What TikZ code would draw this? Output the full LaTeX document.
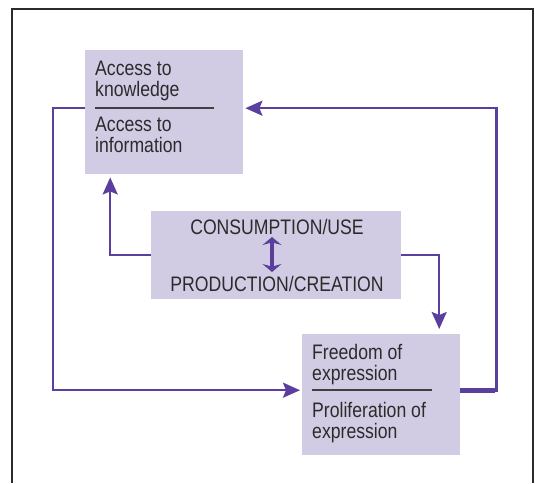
\documentclass[tikz,border=0pt]{standalone}
\usepackage{fontspec}
\setmainfont{Liberation Sans}[FakeStretch=0.84]
\usetikzlibrary{arrows.meta}
\definecolor{flowpurple}{HTML}{5B3F9E}
\definecolor{boxlilac}{HTML}{D1CCE4}
\definecolor{inkgray}{HTML}{2B2B2B}
\begin{document}
\begin{tikzpicture}[x=1pt,y=-1pt,
  box/.style={fill=boxlilac,inner sep=0pt,anchor=north west},
  label/.style={text=inkgray,align=left,anchor=base west,inner sep=0pt,
    font=\fontsize{21}{20.5}\selectfont},
  caps/.style={text=inkgray,inner sep=0pt,anchor=base,font=\fontsize{21}{20}\selectfont},
  rule/.style={draw=inkgray!90,line width=1.3pt},
  flow/.style={draw=flowpurple,line width=2.4pt,shorten >=2pt,
    -{Stealth[length=17pt,width=15pt,inset=3pt]}},
  ]
\useasboundingbox (0,0) rectangle (535,483);

% frame:
\draw[line width=1.1pt,inkgray] (12,483) -- (12,9) -- (533,9) -- (533,483);

% boxes:
\node[box,minimum width=158pt,minimum height=124pt] (access) at (85,50) {};
\node[box,minimum width=250pt,minimum height=88pt] (use) at (151,211) {};
\node[box,minimum width=158pt,minimum height=121pt] (free) at (302,334) {};

% access (base = last line):
\node[label] (know) at (95,96) {Access to\\knowledge};
\draw[rule] (95,108) -- (214,108);
\node[label] (info) at (95,152) {Access to\\information};

% use:
\node[caps] (consume) at (277,234) {CONSUMPTION/USE};
\node[caps] (produce) at (277,291) {PRODUCTION/CREATION};
\coordinate (swap1) at (272,237);
\coordinate (swap2) at (272,272);
\draw[flowpurple,line width=4.5pt,{Stealth[length=8pt,width=19pt]}-{Stealth[length=8pt,width=19pt]}]
  (swap1) -- (swap2);

% freedom:
\node[label] (expr) at (312,380) {Freedom of\\expression};
\draw[rule] (312,390) -- (432,390);
\node[label] (prolif) at (312,438) {Proliferation of\\expression};

% loops:
\draw[flow] ([yshift=4pt]access.west) -- ++(-32,0) |- ([yshift=4.5pt]free.west);
\draw[flowpurple,line width=4.5pt] ([yshift=4pt]free.east) -- ++(35,0);
\draw[flow] ([yshift=4pt]free.east) -- ++(36,0) |- ([yshift=4pt]access.east);
\draw[flow,shorten >=3pt] (use.west) -| ([xshift=-54pt]access.south);
\draw[flow,shorten >=5pt] (use.east) -| ([xshift=58pt]free.north);
\end{tikzpicture}
\end{document}
